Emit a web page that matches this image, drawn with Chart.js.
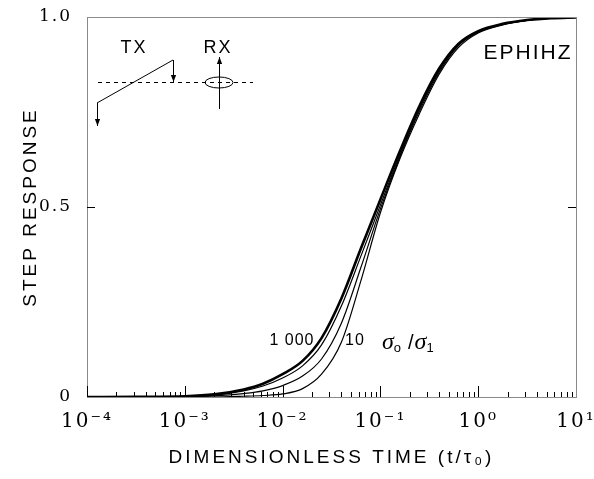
<!DOCTYPE html>
<html><head><meta charset="utf-8">
<script src="https://cdn.jsdelivr.net/npm/chart.js@4.4.1/dist/chart.umd.min.js"></script>
<style>html,body{margin:0;padding:0;background:#fff;}canvas{display:block}</style>
</head><body>
<canvas id="c" width="594" height="479"></canvas>
<script>
// ---- data ----
const timeValues   = [1e-4, 3.2e-4, 1e-3, 2e-3, 4e-3, 6.3e-3, 0.01, 0.016, 0.025, 0.04, 0.063, 0.1, 0.16, 0.25, 0.4, 0.63, 1, 1.78, 3.16, 5.6, 10];
const response1000 = [0, 0.0005, 0.002, 0.007, 0.02, 0.035, 0.06, 0.095, 0.155, 0.26, 0.39, 0.52, 0.65, 0.765, 0.865, 0.93, 0.963, 0.982, 0.992, 0.997, 0.999];
const response100  = [0, 0.0003, 0.0015, 0.005, 0.016, 0.029, 0.05, 0.082, 0.137, 0.24, 0.37, 0.505, 0.64, 0.758, 0.86, 0.928, 0.962, 0.981, 0.992, 0.997, 0.999];
const response30   = [0, 0, 0.0008, 0.003, 0.009, 0.016, 0.03, 0.055, 0.1, 0.195, 0.34, 0.495, 0.635, 0.752, 0.855, 0.925, 0.96, 0.98, 0.991, 0.997, 0.999];
const response10   = [0, 0, 0, 0, 0.002, 0.004, 0.008, 0.022, 0.06, 0.145, 0.305, 0.485, 0.63, 0.745, 0.85, 0.92, 0.958, 0.979, 0.991, 0.997, 0.999];
const seriesNames  = ['1 000', '100', '30', '10'];
const xTickValues  = [1e-4, 1e-3, 1e-2, 1e-1, 1, 10];
const xTickLabels  = ['10\u207B\u2074', '10\u207B\u00B3', '10\u207B\u00B2', '10\u207B\u00B9', '10\u2070', '10\u00B9'];
const yTickValues  = [0, 0.5, 1];
const yTickLabels  = ['0', '0.5', '1.0'];
const xTitle = 'DIMENSIONLESS TIME (t/\u03C4\u2080)';
const yTitle = 'STEP RESPONSE';

const allSeries = [response1000, response100, response30, response10];
const widths = [2.6, 1.2, 1.2, 1.2];

const datasets = allSeries.map((vals, k) => ({
  label: seriesNames[k],
  data: timeValues.map((t, i) => ({x: t, y: vals[i]})),
  borderColor: '#000',
  borderWidth: widths[k],
  pointRadius: 0,
  fill: false,
  cubicInterpolationMode: 'monotone'
}));

function arrow(ctx, x1, y1, x2, y2) {
  ctx.beginPath(); ctx.moveTo(x1, y1); ctx.lineTo(x2, y2); ctx.stroke();
  const a = Math.atan2(y2 - y1, x2 - x1), L = 7, w = 2.6;
  ctx.beginPath();
  ctx.moveTo(x2, y2);
  ctx.lineTo(x2 - L*Math.cos(a) + w*Math.sin(a), y2 - L*Math.sin(a) - w*Math.cos(a));
  ctx.lineTo(x2 - L*Math.cos(a) - w*Math.sin(a), y2 - L*Math.sin(a) + w*Math.cos(a));
  ctx.closePath(); ctx.fill();
}

const decorPlugin = {
  id: 'decor',
  beforeDraw(chart) { chart.ctx.letterSpacing = '3px'; },
  beforeDatasetsDraw(chart) { chart.ctx.letterSpacing = '2px'; },
  afterDraw(chart) {
    const ctx = chart.ctx, ca = chart.chartArea, xs = chart.scales.x, ys = chart.scales.y;
    ctx.save();
    ctx.letterSpacing = '0px';
    // frame
    ctx.strokeStyle = '#8a8a8a'; ctx.lineWidth = 1;
    ctx.strokeRect(Math.round(ca.left)+0.5, Math.round(ca.top)+0.5, Math.round(ca.right-ca.left), Math.round(ca.bottom-ca.top));
    // bottom ticks (inward)
    ctx.strokeStyle = '#000';
    ctx.beginPath();
    for (let d = -4; d <= 0; d++) {
      for (let m = 1; m <= 9; m++) {
        const v = m * Math.pow(10, d);
        const px = Math.round(xs.getPixelForValue(v)) + 0.5;
        const len = m === 1 ? 11 : 5;
        ctx.moveTo(px, ca.bottom); ctx.lineTo(px, ca.bottom - len);
      }
    }
    // y ticks at 0.5, both sides
    const py = Math.round(ys.getPixelForValue(0.5)) + 0.5;
    ctx.moveTo(ca.left, py); ctx.lineTo(ca.left + 8, py);
    ctx.moveTo(ca.right, py); ctx.lineTo(ca.right - 8, py);
    ctx.stroke();

    // inset sketch (TX / RX)
    const ox = ca.left, oy = ca.top;
    ctx.fillStyle = '#000'; ctx.strokeStyle = '#000'; ctx.lineWidth = 1;
    ctx.font = '18px "Liberation Sans"'; ctx.textAlign = 'center'; ctx.textBaseline = 'middle';
    ctx.letterSpacing = '2px';
    ctx.fillText('TX', ox + 47, oy + 31);
    ctx.fillText('RX', ox + 131, oy + 31);
    ctx.letterSpacing = '0px';
    ctx.setLineDash([4, 4]);
    ctx.beginPath(); ctx.moveTo(ox + 11, oy + 65.5); ctx.lineTo(ox + 166, oy + 65.5); ctx.stroke();
    ctx.setLineDash([]);
    ctx.beginPath(); ctx.moveTo(ox + 10, oy + 86); ctx.lineTo(ox + 86, oy + 43); ctx.stroke();
    arrow(ctx, ox + 86.5, oy + 43, ox + 86.5, oy + 65);
    arrow(ctx, ox + 10.5, oy + 86, ox + 10.5, oy + 109);
    ctx.beginPath(); ctx.ellipse(ox + 132, oy + 65.5, 14, 5.5, 0, 0, Math.PI*2); ctx.stroke();
    arrow(ctx, ox + 132.5, oy + 92, ox + 132.5, oy + 40);

    // EPHIHZ
    ctx.font = '21px "Liberation Sans"'; ctx.textAlign = 'center'; ctx.textBaseline = 'middle';
    ctx.letterSpacing = '2px';
    ctx.fillText('EPHIHZ', 528, 53);
    // curve labels
    ctx.font = '16px "Liberation Sans"'; ctx.letterSpacing = '1px';
    ctx.fillText('1 000', 292, 341);
    ctx.fillText('10', 355, 341);
    ctx.letterSpacing = '0px';
    ctx.textAlign = 'left'; ctx.textBaseline = 'alphabetic';
    let x = 382; const base = 349;
    ctx.font = 'italic 24px "Liberation Serif"'; ctx.fillText('\u03C3', x, base); x += ctx.measureText('\u03C3').width;
    ctx.font = '13px "Liberation Sans"'; ctx.fillText('o', x, base + 3); x += ctx.measureText('o').width + 7;
    ctx.font = '20px "Liberation Sans"'; ctx.fillText('/', x, base); x += ctx.measureText('/').width + 1;
    ctx.font = 'italic 24px "Liberation Serif"'; ctx.fillText('\u03C3', x, base); x += ctx.measureText('\u03C3').width;
    ctx.font = '13px "Liberation Sans"'; ctx.fillText('1', x, base + 3);
    ctx.restore();
  }
};

new Chart(document.getElementById('c').getContext('2d'), {
  type: 'line',
  data: { datasets },
  options: {
    responsive: false, animation: false, devicePixelRatio: 1,
    layout: { padding: { top: 17, right: 18, left: 0, bottom: 0 } },
    plugins: { legend: { display: false }, tooltip: { enabled: false } },
    elements: { line: { borderCapStyle: 'round' } },
    scales: {
      x: {
        type: 'logarithmic', min: 1e-4, max: 10, position: 'bottom',
        afterBuildTicks: s => { s.ticks = xTickValues.map(v => ({ value: v, major: true })); },
        afterFit: s => { s.height = 82; s.paddingLeft = 0; s.paddingRight = 0; },
        grid: { display: false, drawTicks: false },
        border: { display: false },
        ticks: { z: 1, autoSkip: false, maxRotation: 0, padding: 13, color: '#000',
          font: { family: 'DejaVu Serif', size: 20 },
          callback: (v) => xTickLabels[xTickValues.indexOf(v)] },
        title: { display: true, text: xTitle, color: '#000',
          font: { family: 'Liberation Sans', size: 19, lineHeight: 1 }, padding: { top: 0, bottom: 12 } }
      },
      y: {
        type: 'linear', min: 0, max: 1,
        afterBuildTicks: s => { s.ticks = yTickValues.map(v => ({ value: v })); },
        afterFit: s => { s.width = 87; s.paddingTop = 0; s.paddingBottom = 0; },
        grid: { display: false, drawTicks: false },
        border: { display: false },
        ticks: { z: 1, padding: 15, color: '#000',
          font: { family: 'DejaVu Serif', size: 17 },
          callback: (v) => yTickLabels[yTickValues.indexOf(v)] },
        title: { display: true, text: yTitle, color: '#000',
          font: { family: 'Liberation Sans', size: 19, lineHeight: 1 }, padding: { top: 21, bottom: 0 } }
      }
    }
  },
  plugins: [decorPlugin]
});
</script>
</body></html>
